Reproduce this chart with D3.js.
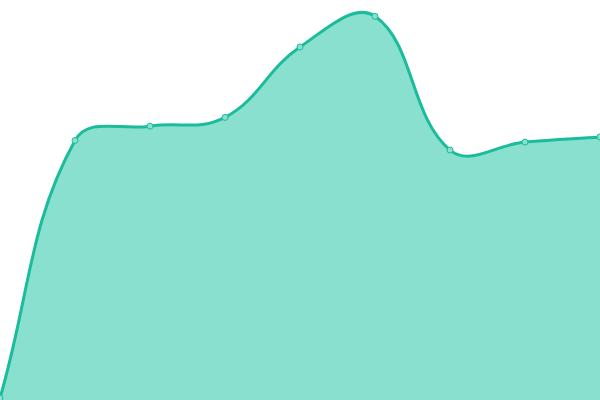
<!DOCTYPE html>
<html lang="en">
<head>
<meta charset="utf-8">
<title>Area</title>
<script src="https://d3js.org/d3.v7.min.js"></script>
<style>
  body { margin: 0; background: #fff; }
  svg { display: block; }
</style>
</head>
<body>
<svg width="600" height="400"></svg>
<script>
// data
const labels = ["A", "B", "C", "D", "E", "F", "G", "H", "I"];
const values = [0, 64.7, 68.3, 70.5, 88.2, 95.9, 62.3, 64.3, 65.6];

const svg = d3.select("svg");
const width = 600, height = 400;
const tension = 0.4;

const x = d3.scalePoint().domain(labels).range([0, width]);
const y = d3.scaleLinear().domain([0, 100]).range([398, 0]);

// screen points from the scales
const pts = labels.map((l, i) => ({ x: x(l), y: y(values[i]) }));

// distance-weighted spline control points (same idea as chart.js bezier tension)
pts.forEach((p, i) => {
  const prev = pts[i - 1] || p, next = pts[i + 1] || p;
  const d01 = Math.hypot(p.x - prev.x, p.y - prev.y);
  const d12 = Math.hypot(next.x - p.x, next.y - p.y);
  let s01 = d01 / (d01 + d12), s12 = d12 / (d01 + d12);
  if (isNaN(s01)) s01 = 0;
  if (isNaN(s12)) s12 = 0;
  const fa = tension * s01, fb = tension * s12;
  p.cpIn = { x: p.x - fa * (next.x - prev.x), y: p.y - fa * (next.y - prev.y) };
  p.cpOut = { x: p.x + fb * (next.x - prev.x), y: p.y + fb * (next.y - prev.y) };
});

function curveTo(path) {
  for (let i = 1; i < pts.length; i++) {
    const a = pts[i - 1], b = pts[i];
    path.bezierCurveTo(a.cpOut.x, a.cpOut.y, b.cpIn.x, b.cpIn.y, b.x, b.y);
  }
}

const linePath = d3.path();
linePath.moveTo(pts[0].x, pts[0].y);
curveTo(linePath);

const areaPath = d3.path();
areaPath.moveTo(pts[0].x, pts[0].y);
curveTo(areaPath);
areaPath.lineTo(pts[pts.length - 1].x, height);
areaPath.lineTo(pts[0].x, height);
areaPath.closePath();

svg.append("path")
  .attr("d", areaPath.toString())
  .attr("fill", "#89e0cf");

svg.append("path")
  .attr("d", linePath.toString())
  .attr("fill", "none")
  .attr("stroke", "#1abc9c")
  .attr("stroke-width", 3);

svg.selectAll("circle")
  .data(pts)
  .enter()
  .append("circle")
  .attr("cx", d => d.x)
  .attr("cy", d => d.y)
  .attr("r", 3)
  .attr("fill", "#89e0cf")
  .attr("stroke", "#1abc9c")
  .attr("stroke-width", 1);
</script>
</body>
</html>
